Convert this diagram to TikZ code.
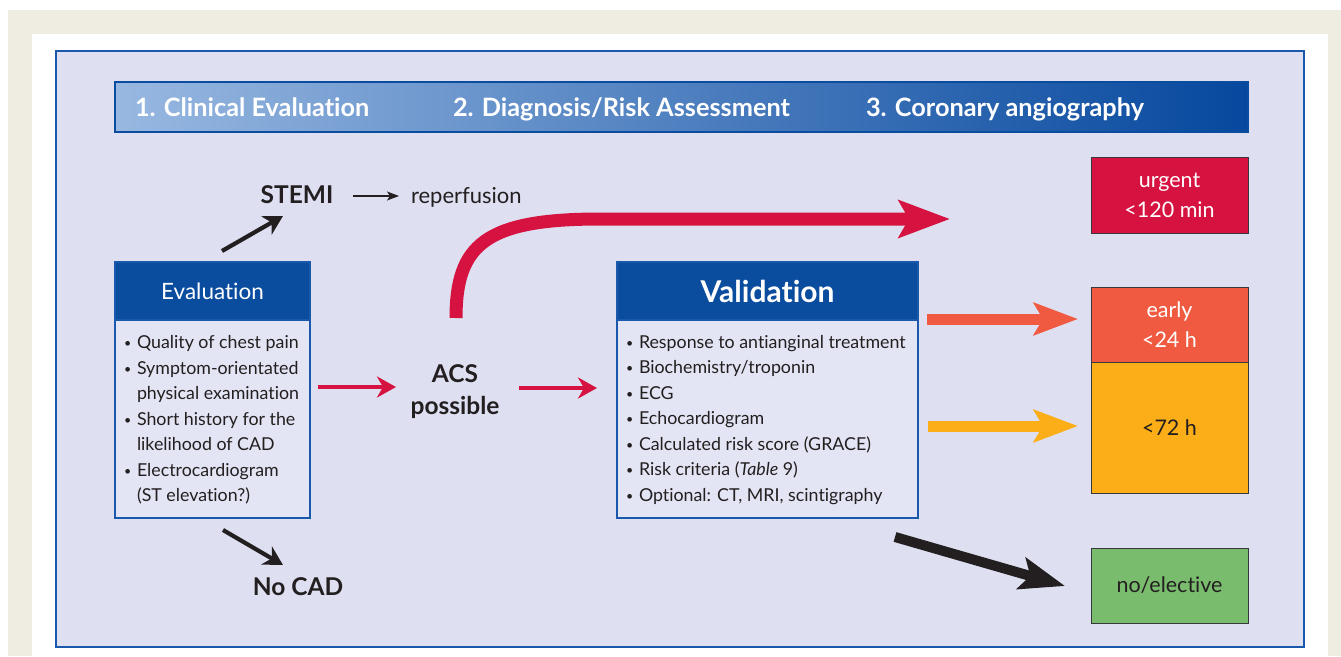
\documentclass[tikz,border=0pt]{standalone}
\usepackage{fontspec}
\setmainfont[Ligatures=NoCommon]{Lato}
\usepackage{graphicx}
\usetikzlibrary{arrows.meta,calc}
\definecolor{beige}{RGB}{239,236,225}
\definecolor{lav}{RGB}{222,224,241}
\definecolor{lavb}{RGB}{228,229,244}
\definecolor{eblue}{RGB}{10,76,158}
\definecolor{bord}{RGB}{25,88,170}
\definecolor{crim}{RGB}{214,19,64}
\definecolor{ored}{RGB}{240,90,64}
\definecolor{amber}{RGB}{251,174,23}
\definecolor{grn}{RGB}{122,188,110}
\definecolor{ink}{RGB}{35,31,32}
\definecolor{bandL}{RGB}{152,184,225}
\definecolor{bandR}{RGB}{6,72,158}
\definecolor{boxline}{RGB}{55,55,60}
\newcommand\myfs[2]{\fontsize{#1}{#2}\selectfont}
\newcommand\bul{\makebox[13pt][l]{\raisebox{1pt}{\scalebox{0.7}{\textbullet}}}}
\newcommand\myind{\hspace*{13pt}}
\begin{document}
\begin{tikzpicture}[x=1pt,y=-1pt,
  every node/.style={inner sep=0pt, outer sep=0pt, text=ink},
  headbox/.style={draw=bord, line width=2pt, fill=eblue, text=white, minimum height=58pt, minimum width=#1, anchor=north west},
  bodybox/.style={draw=bord, line width=2pt, fill=lavb, minimum height=198pt, minimum width=#1, anchor=north west},
  itemtext/.style={anchor=west, align=left, font=\myfs{17.8}{25.5}},
  target/.style={draw=boxline, line width=0.9pt, minimum width=157pt, minimum height=#1, anchor=north west, align=center, font=\myfs{21.5}{30}},
  bandtext/.style={anchor=base west, text=white, font=\myfs{25.3}{25.3}\bfseries},
  big/.style={font=\myfs{24.5}{32}\bfseries, align=center},
  smallarrow/.style={line width=4.2pt, -{Stealth[length=19pt, width=21pt, inset=6pt]}},
  thinarrow/.style={line width=1.2pt, -{Stealth[length=12pt, width=9pt, inset=3pt]}},
  fatarrow/.style={line width=11pt, -{Stealth[length=44pt, width=32pt, inset=9pt]}},
  curvearrow/.style={line width=13pt, -{Stealth[length=51pt, width=37pt, inset=10pt]}}
]
\useasboundingbox (0,0) rectangle (1341,656);
\fill[white] (0,0) rectangle (1341,656);
\fill[beige] (8,10) rectangle (1341,34);
\fill[beige] (8,10) rectangle (32,656);
\fill[beige] (1328,34) rectangle (1341,656);
% panel
\draw[bord, line width=2.2pt, fill=lav] (56,51) rectangle (1304,647);
% header band
\node[draw=eblue, line width=1.5pt, left color=bandL, right color=bandR, minimum width=1133pt, minimum height=50pt, anchor=north west] (band) at (115,82) {};
\node[bandtext] (h1) at (135,116) {1. Clinical Evaluation};
\node[bandtext] (h2) at (453,116) {2. Diagnosis/Risk Assessment};
\node[bandtext] (h3) at (866,116) {3. Coronary angiography};
% evaluation box
\node[headbox=195pt] (evalhead) at (115,262) {\myfs{22.5}{22.5}Evaluation};
\node[bodybox=195pt] (evalbody) at (115,320) {};
\node[itemtext] (evaltext) at ($(evalbody.west)+(9,1)$) {%
\bul Quality of chest pain\\
\bul Symptom-orientated\\
\myind physical examination\\
\bul Short history for the\\
\myind likelihood of CAD\\
\bul Electrocardiogram\\
\myind (ST elevation?)};
% validation box
\node[headbox=301pt] (valhead) at (617,262) {\myfs{30}{30}\bfseries Validation};
\node[bodybox=301pt] (valbody) at (617,320) {};
\node[itemtext] (valtext) at ($(valbody.west)+(9,1)$) {%
\bul Response to antianginal treatment\\
\bul Biochemistry/troponin\\
\bul ECG\\
\bul Echocardiogram\\
\bul Calculated risk score (GRACE)\\
\bul Risk criteria (\textit{Table} 9)\\
\bul Optional: CT, MRI, scintigraphy};
% labels
\node[big, anchor=base] (stemi) at (297,203) {STEMI};
\node[anchor=base west, font=\myfs{22}{22}] (reperf) at (411,203) {reperfusion};
\node[big] (acs) at (455,392) {ACS\\possible};
\node[big, anchor=base] (nocad) at (298,595) {No CAD};
% targets
\node[target=76pt, fill=crim, text=white] (urgent) at (1091,157) {urgent\\<120 min};
\node[target=75pt, fill=ored, text=white] (early) at (1091,287) {early\\<24 h};
\node[target=131pt, fill=amber] (h72) at (1091,362) {<72 h};
\node[target=75pt, fill=grn] (noel) at (1091,548) {no/elective};
% connector end points
\coordinate (s1) at (222,251); \coordinate (s2) at (283,216);
\coordinate (n1) at (223,530); \coordinate (n2) at (283,565);
\coordinate (r1) at (353,196); \coordinate (r2) at (399,196);
\coordinate (e1) at (318,387); \coordinate (e2) at (396,387);
\coordinate (a1) at (519,388); \coordinate (a2) at (597,388);
\coordinate (c1) at (456,318); \coordinate (c2) at (950,219);
\coordinate (o1) at (927,319); \coordinate (o2) at (1078,319);
\coordinate (y1) at (928,426); \coordinate (y2) at (1078,426);
\coordinate (b1) at (895,537); \coordinate (b2) at (1065,586);
% connectors
\draw[smallarrow, ink] (s1) -- (s2);
\draw[smallarrow, ink] (n1) -- (n2);
\draw[thinarrow, ink] (r1) -- (r2);
\draw[smallarrow, crim] (e1) -- (e2);
\draw[smallarrow, crim] (a1) -- (a2);
\draw[curvearrow, crim] (c1) .. controls (456,245) and (485,219) .. (600,219) -- (c2);
\draw[fatarrow, ored] (o1) -- (o2);
\draw[fatarrow, amber] (y1) -- (y2);
\draw[line width=10pt, ink, -{Stealth[length=45pt, width=32pt, inset=9pt]}] (b1) -- (b2);
\end{tikzpicture}
\end{document}
